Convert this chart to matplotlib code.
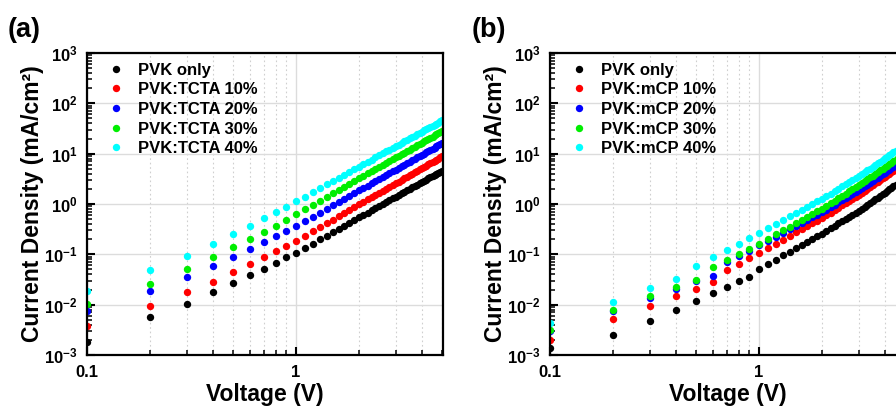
import numpy as np
import matplotlib.pyplot as plt
from matplotlib.ticker import LogLocator, FixedLocator, FuncFormatter, NullFormatter

plt.rcParams['font.family'] = ['Liberation Sans', 'DejaVu Sans']
plt.rcParams['font.weight'] = 'bold'
plt.rcParams['axes.labelweight'] = 'bold'
plt.rcParams['mathtext.fontset'] = 'custom'
plt.rcParams['mathtext.rm'] = 'Liberation Sans:bold'
plt.rcParams['mathtext.it'] = 'Liberation Sans:bold'
plt.rcParams['mathtext.bf'] = 'Liberation Sans:bold'

# Bias sweep (V)
voltage = [0.1, 0.2, 0.3, 0.4, 0.5, 0.6, 0.7, 0.8, 0.9, 1.0,
           1.1, 1.2, 1.3, 1.4, 1.5, 1.6, 1.7, 1.8, 1.9, 2.0,
           2.1, 2.2, 2.3, 2.4, 2.5, 2.6, 2.7, 2.8, 2.9, 3.0,
           3.1, 3.2, 3.3, 3.4, 3.5, 3.6, 3.7, 3.8, 3.9, 4.0,
           4.1, 4.2, 4.3, 4.4, 4.5, 4.6, 4.7, 4.8, 4.9, 5.0]

# log10 of current density (mA/cm^2), hole-only devices with TCTA blends
log_j_pvk_a = [-2.75, -2.242, -1.977, -1.751, -1.573, -1.42, -1.288, -1.169, -1.062, -0.971,
               -0.874, -0.786, -0.704, -0.629, -0.559, -0.494, -0.432, -0.374, -0.319, -0.267,
               -0.218, -0.170, -0.125, -0.082, -0.041, -0.001, 0.038, 0.075, 0.110, 0.144,
               0.178, 0.210, 0.241, 0.272, 0.301, 0.330, 0.357, 0.384, 0.411, 0.437,
               0.462, 0.486, 0.510, 0.533, 0.556, 0.578, 0.600, 0.621, 0.642, 0.663]
log_j_tcta10 = [-2.42, -2.02, -1.751, -1.546, -1.36, -1.195, -1.062, -0.936, -0.837, -0.730,
                -0.631, -0.540, -0.457, -0.380, -0.308, -0.241, -0.178, -0.118, -0.062, -0.009,
                0.042, 0.090, 0.137, 0.181, 0.223, 0.264, 0.304, 0.342, 0.378, 0.413,
                0.447, 0.480, 0.512, 0.544, 0.574, 0.603, 0.631, 0.659, 0.686, 0.713,
                0.738, 0.763, 0.788, 0.812, 0.835, 0.858, 0.880, 0.902, 0.924, 0.945]
log_j_tcta20 = [-2.12, -1.72, -1.447, -1.228, -1.05, -0.897, -0.764, -0.638, -0.533, -0.44,
                -0.343, -0.254, -0.172, -0.096, -0.025, 0.041, 0.103, 0.161, 0.217, 0.269,
                0.319, 0.366, 0.412, 0.455, 0.497, 0.537, 0.576, 0.613, 0.649, 0.684,
                0.717, 0.750, 0.781, 0.812, 0.841, 0.870, 0.898, 0.925, 0.952, 0.978,
                1.003, 1.028, 1.052, 1.076, 1.098, 1.121, 1.143, 1.164, 1.185, 1.206]
log_j_tcta30 = [-1.99, -1.58, -1.288, -1.062, -0.863, -0.698, -0.553, -0.433, -0.314, -0.20,
                -0.103, -0.014, 0.068, 0.144, 0.215, 0.281, 0.343, 0.401, 0.457, 0.509,
                0.559, 0.606, 0.652, 0.695, 0.737, 0.777, 0.816, 0.853, 0.889, 0.924,
                0.957, 0.990, 1.021, 1.052, 1.081, 1.110, 1.138, 1.165, 1.192, 1.218,
                1.243, 1.268, 1.292, 1.316, 1.338, 1.361, 1.383, 1.404, 1.425, 1.446]
log_j_tcta40 = [-1.72, -1.314, -1.036, -0.804, -0.605, -0.44, -0.287, -0.161, -0.056, 0.052,
                0.147, 0.234, 0.314, 0.388, 0.457, 0.521, 0.582, 0.639, 0.693, 0.744,
                0.793, 0.840, 0.884, 0.926, 0.967, 1.007, 1.044, 1.081, 1.116, 1.149,
                1.182, 1.214, 1.245, 1.274, 1.304, 1.332, 1.359, 1.386, 1.412, 1.437,
                1.461, 1.485, 1.509, 1.532, 1.554, 1.577, 1.598, 1.619, 1.640, 1.660]

# log10 of current density (mA/cm^2), mCP blends
log_j_pvk_b = [-2.86, -2.60, -2.33, -2.10, -1.92, -1.76, -1.64, -1.535, -1.45, -1.285,
               -1.190, -1.103, -1.023, -0.949, -0.880, -0.816, -0.755, -0.698, -0.644, -0.593,
               -0.538, -0.485, -0.435, -0.387, -0.341, -0.297, -0.254, -0.213, -0.173, -0.135,
               -0.094, -0.054, -0.015, 0.023, 0.059, 0.095, 0.129, 0.163, 0.196, 0.228,
               0.259, 0.289, 0.319, 0.348, 0.376, 0.404, 0.431, 0.457, 0.483, 0.509]
log_j_mcp10 = [-2.70, -2.28, -2.02, -1.83, -1.68, -1.545, -1.305, -1.185, -1.075, -0.97,
               -0.875, -0.788, -0.708, -0.634, -0.565, -0.501, -0.440, -0.383, -0.329, -0.278,
               -0.223, -0.170, -0.120, -0.072, -0.026, 0.018, 0.061, 0.102, 0.142, 0.180,
               0.221, 0.261, 0.300, 0.338, 0.374, 0.410, 0.444, 0.478, 0.511, 0.543,
               0.574, 0.604, 0.634, 0.663, 0.691, 0.719, 0.746, 0.772, 0.798, 0.824]
log_j_mcp20 = [-2.52, -2.12, -1.86, -1.68, -1.52, -1.43, -1.16, -1.03, -0.925, -0.82,
               -0.730, -0.648, -0.572, -0.502, -0.437, -0.376, -0.318, -0.264, -0.213, -0.165,
               -0.112, -0.062, -0.014, 0.031, 0.075, 0.117, 0.158, 0.197, 0.235, 0.272,
               0.311, 0.349, 0.386, 0.423, 0.457, 0.492, 0.524, 0.557, 0.589, 0.619,
               0.649, 0.678, 0.706, 0.734, 0.761, 0.788, 0.814, 0.839, 0.863, 0.888]
log_j_mcp30 = [-2.50, -2.11, -1.83, -1.645, -1.51, -1.257, -1.12, -1.00, -0.89, -0.785,
               -0.690, -0.603, -0.522, -0.448, -0.379, -0.314, -0.253, -0.196, -0.142, -0.091,
               -0.035, 0.018, 0.068, 0.115, 0.162, 0.206, 0.249, 0.290, 0.330, 0.369,
               0.410, 0.450, 0.488, 0.527, 0.563, 0.599, 0.633, 0.667, 0.701, 0.732,
               0.764, 0.794, 0.823, 0.853, 0.881, 0.909, 0.936, 0.963, 0.988, 1.014]
log_j_mcp40 = [-2.36, -1.95, -1.67, -1.49, -1.235, -1.058, -0.909, -0.79, -0.678, -0.574,
               -0.482, -0.398, -0.319, -0.247, -0.180, -0.116, -0.057, -0.001, 0.051, 0.101,
               0.156, 0.207, 0.256, 0.302, 0.348, 0.391, 0.433, 0.473, 0.512, 0.550,
               0.591, 0.630, 0.667, 0.705, 0.740, 0.776, 0.809, 0.842, 0.876, 0.906,
               0.937, 0.967, 0.995, 1.024, 1.052, 1.079, 1.106, 1.132, 1.157, 1.182]

labels_a = ['PVK only', 'PVK:TCTA 10%', 'PVK:TCTA 20%', 'PVK:TCTA 30%', 'PVK:TCTA 40%']
labels_b = ['PVK only', 'PVK:mCP 10%', 'PVK:mCP 20%', 'PVK:mCP 30%', 'PVK:mCP 40%']
colors = ['#000000', '#ff0000', '#0000ff', '#00ee00', '#00ffff']


def decade_label(v, pos):
    return r'$10^{%d}$' % int(round(np.log10(v)))


def draw_panel(ax, series, labels):
    for logj, lab, col in zip(series, labels, colors):
        ax.plot(voltage, 10 ** np.array(logj), 'o', ms=5.3, mew=0, color=col, label=lab)

    ax.set_xscale('log')
    ax.set_yscale('log')
    ax.set_xlim(0.1, 5.05)
    ax.set_ylim(1e-3, 1e3)

    ax.xaxis.set_major_locator(FixedLocator([0.1, 1]))
    ax.xaxis.set_major_formatter(FuncFormatter(lambda v, p: '%g' % v))
    ax.xaxis.set_minor_locator(LogLocator(base=10, subs=np.arange(2, 10), numticks=20))
    ax.xaxis.set_minor_formatter(NullFormatter())
    ax.yaxis.set_major_locator(LogLocator(base=10, numticks=10))
    ax.yaxis.set_major_formatter(FuncFormatter(decade_label))
    ax.yaxis.set_minor_locator(LogLocator(base=10, subs=np.arange(2, 10), numticks=20))
    ax.yaxis.set_minor_formatter(NullFormatter())

    ax.tick_params(which='major', direction='in', length=6, width=1.5, labelsize=12, pad=7)
    ax.tick_params(which='minor', direction='in', length=3.5, width=1.1)
    ax.tick_params(top=False, right=False, which='both')
    for sp in ax.spines.values():
        sp.set_linewidth(1.6)

    ax.set_axisbelow(True)
    ax.grid(which='major', color='#dcdcdc', lw=1.0, ls='-')
    ax.xaxis.grid(which='minor', color='#cfcfcf', lw=0.8, ls=(0, (1.5, 2.5)))

    ax.set_xlabel('Voltage (V)', fontsize=16.5)
    ax.set_ylabel('Current Density (mA/cm²)', fontsize=16.5)
    ax.xaxis.set_label_coords(0.5, -0.092)
    ax.yaxis.set_label_coords(-0.122, 0.5)

    ax.legend(loc='upper left', bbox_to_anchor=(0.058, 0.968), frameon=False,
              fontsize=12, handlelength=1.0, handletextpad=0.85, labelspacing=0.28,
              borderpad=0, borderaxespad=0, markerscale=1.0)


fig = plt.figure(figsize=(8.96, 4.07), dpi=100)
ax_a = fig.add_axes([87 / 896, 52 / 407, 356 / 896, 302 / 407])
ax_b = fig.add_axes([550 / 896, 52 / 407, 356 / 896, 302 / 407])

draw_panel(ax_a, [log_j_pvk_a, log_j_tcta10, log_j_tcta20, log_j_tcta30, log_j_tcta40], labels_a)
draw_panel(ax_b, [log_j_pvk_b, log_j_mcp10, log_j_mcp20, log_j_mcp30, log_j_mcp40], labels_b)

fig.text(8 / 896, 1 - 30 / 407, '(a)', fontsize=19.5, va='center', ha='left')
fig.text(472 / 896, 1 - 30 / 407, '(b)', fontsize=19.5, va='center', ha='left')

fig.savefig('out.png', dpi=100)
